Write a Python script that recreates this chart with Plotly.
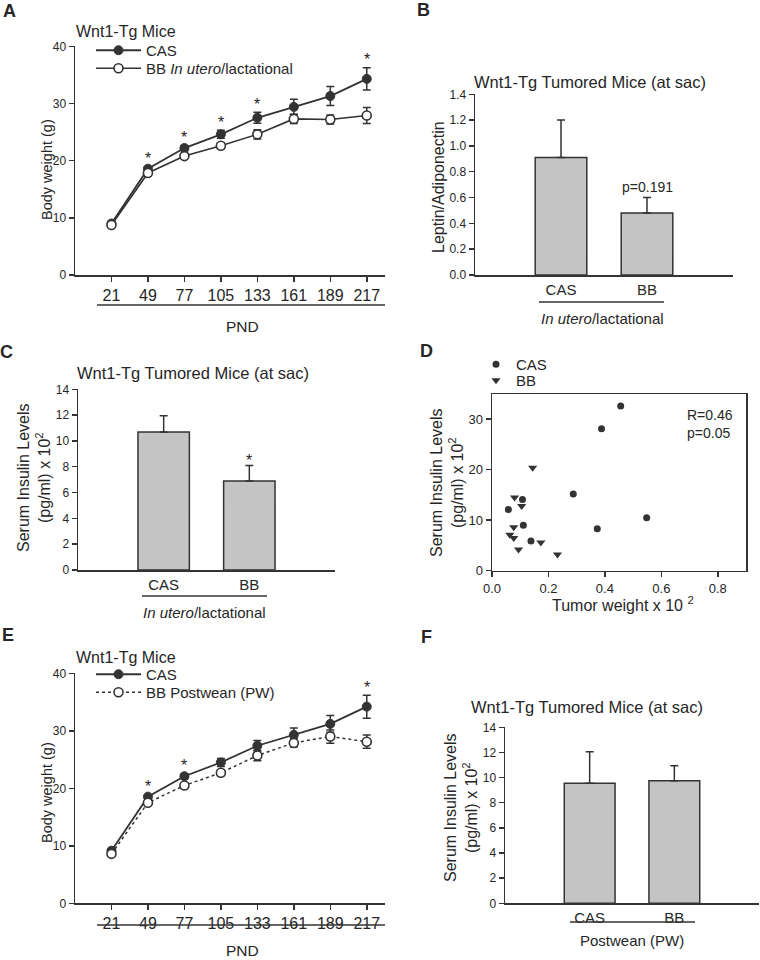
import plotly.graph_objects as go

W, H = 760, 960

# ---------------- data ----------------
pnd = ["21", "49", "77", "105", "133", "161", "189", "217"]

a_cas = [9.0, 18.6, 22.2, 24.6, 27.5, 29.4, 31.3, 34.3]
a_cas_err = [0.3, 0.3, 0.45, 0.7, 0.95, 1.35, 1.65, 1.95]
a_bb = [8.75, 17.85, 20.8, 22.6, 24.6, 27.3, 27.2, 27.9]
a_bb_err = [0.3, 0.3, 0.4, 0.5, 0.8, 0.8, 0.8, 1.4]
a_sig = [0, 1, 1, 1, 1, 0, 0, 1]

e_cas = [9.15, 18.55, 22.1, 24.5, 27.4, 29.3, 31.2, 34.2]
e_cas_err = [0.3, 0.3, 0.45, 0.7, 0.9, 1.2, 1.45, 2.0]
e_bb = [8.6, 17.5, 20.5, 22.7, 25.7, 27.9, 29.0, 28.1]
e_bb_err = [0.3, 0.3, 0.45, 0.5, 0.9, 0.7, 1.15, 1.15]
e_sig = [0, 1, 1, 0, 0, 0, 0, 1]

groups = ["CAS", "BB"]
b_vals = [0.91, 0.48]
b_err = [0.29, 0.12]
c_vals = [10.7, 6.9]
c_err = [1.25, 1.2]
c_sig = [0, 1]
f_vals = [9.55, 9.75]
f_err = [2.5, 1.2]

d_cas_x = [0.058, 0.108, 0.111, 0.138, 0.288, 0.373, 0.388, 0.456, 0.548]
d_cas_y = [12.1, 14.1, 9.0, 5.9, 15.2, 8.3, 28.1, 32.6, 10.5]
d_bb_x = [0.063, 0.077, 0.077, 0.080, 0.094, 0.105, 0.144, 0.173, 0.232]
d_bb_y = [7.1, 6.5, 8.6, 14.5, 4.2, 12.8, 20.4, 5.6, 3.2]

# ---------------- style ----------------
FONT = "Liberation Sans, Arial, sans-serif"
INK = "#333333"
TXT = "#262626"
BARFILL = "#c4c4c4"


def px(x):
    return x / W


def py(y):
    return 1 - y / H


idx = list(range(len(pnd)))
cats = list(range(len(groups)))

fig = go.Figure()


def err(arr, asym=False):
    d = dict(type="data", array=arr, color=INK, thickness=1.5, width=4, visible=True)
    if asym:
        d.update(symmetric=False, arrayminus=[0] * len(arr))
    return d


def line_panel(xa, ya, cas, cas_e, bb, bb_e, bb_name, bb_dash, leg1, leg2):
    fig.add_trace(go.Scatter(
        x=idx, y=cas, error_y=err(cas_e), mode="lines+markers", name="CAS",
        line=dict(color=INK, width=1.8),
        marker=dict(symbol="circle", size=9, color=INK, line=dict(color=INK, width=1)),
        xaxis=xa, yaxis=ya, legend=leg1))
    fig.add_trace(go.Scatter(
        x=idx, y=bb, error_y=err(bb_e), mode="lines+markers", name=bb_name,
        line=dict(color=INK, width=1.6 if bb_dash == "solid" else 1.5, dash=bb_dash),
        marker=dict(symbol="circle", size=9, color="white", line=dict(color=INK, width=1.6)),
        xaxis=xa, yaxis=ya, legend=leg2))


def bar_panel(xa, ya, vals, errs):
    fig.add_trace(go.Bar(
        x=cats, y=vals, width=0.6, error_y=err(errs, asym=True),
        marker=dict(color=BARFILL, line=dict(color=INK, width=1.5)),
        showlegend=False, xaxis=xa, yaxis=ya))


line_panel("x", "y", a_cas, a_cas_err, a_bb, a_bb_err,
           "BB <i>In utero</i>/lactational", "solid", "legend", "legend2")
bar_panel("x2", "y2", b_vals, b_err)
bar_panel("x3", "y3", c_vals, c_err)
fig.add_trace(go.Scatter(x=d_cas_x, y=d_cas_y, mode="markers", name="CAS",
                         marker=dict(symbol="circle", size=7, color=INK),
                         xaxis="x4", yaxis="y4", legend="legend3"))
fig.add_trace(go.Scatter(x=d_bb_x, y=d_bb_y, mode="markers", name="BB",
                         marker=dict(symbol="triangle-down", size=8, color=INK),
                         xaxis="x4", yaxis="y4", legend="legend4"))
line_panel("x5", "y5", e_cas, e_cas_err, e_bb, e_bb_err,
           "BB Postwean (PW)", "dot", "legend5", "legend6")
bar_panel("x6", "y6", f_vals, f_err)

# ---------------- axes ----------------
base = dict(showline=True, linecolor=INK, linewidth=1.5, showgrid=False, zeroline=False,
            ticks="outside", ticklen=5, tickwidth=1.5, tickcolor=INK, automargin=False,
            tickfont=dict(family=FONT, size=12, color=TXT), fixedrange=True)


def ax(**kw):
    d = dict(base)
    d.update(kw)
    return d


pnd_x = dict(range=[-1, 7.5], tickmode="array", tickvals=idx, ticktext=pnd,
             tickfont=dict(family=FONT, size=16, color=TXT))
cat_x = dict(range=[-1, 2], tickmode="array", tickvals=cats, ticktext=groups, ticks="",
             tickfont=dict(family=FONT, size=15, color=TXT))

fig.update_layout(
    template="none",
    xaxis=ax(domain=[px(75), px(385)], anchor="y", **pnd_x),
    yaxis=ax(domain=[py(275), py(46.3)], anchor="x", range=[0, 40], tickvals=[0, 10, 20, 30, 40]),
    xaxis2=ax(domain=[px(475), px(733)], anchor="y2", **cat_x),
    yaxis2=ax(domain=[py(275), py(94.3)], anchor="x2", range=[0, 1.4], dtick=0.2, tickformat=".1f"),
    xaxis3=ax(domain=[px(78), px(335)], anchor="y3", **cat_x),
    yaxis3=ax(domain=[py(570), py(389.3)], anchor="x3", range=[0, 14], dtick=2),
    xaxis4=ax(domain=[px(492), px(746)], anchor="y4", range=[0, 0.9], dtick=0.2, tickformat=".1f",
              mirror=True, tickfont=dict(family=FONT, size=13, color=TXT)),
    yaxis4=ax(domain=[py(570.7), py(394)], anchor="x4", range=[0, 35], tickvals=[0, 10, 20, 30],
              mirror=True, tickfont=dict(family=FONT, size=13, color=TXT)),
    xaxis5=ax(domain=[px(75), px(385)], anchor="y5", **pnd_x),
    yaxis5=ax(domain=[py(903.3), py(673.3)], anchor="x5", range=[0, 40], tickvals=[0, 10, 20, 30, 40]),
    xaxis6=ax(domain=[px(505), px(759)], anchor="y6", **cat_x),
    yaxis6=ax(domain=[py(903.3), py(727.3)], anchor="x6", range=[0, 14], dtick=2),
)


def leg(x0, yc, size=15, iw=45):
    return dict(x=px(x0), y=py(yc - 16), xanchor="left", yanchor="top",
                bgcolor="rgba(0,0,0,0)", borderwidth=0, itemwidth=iw,
                font=dict(family=FONT, size=size, color=TXT),
                itemclick=False, itemdoubleclick=False)


fig.update_layout(
    legend=leg(91, 50), legend2=leg(91, 68),
    legend3=leg(476, 364, 15, 30), legend4=leg(476, 380, 15, 30),
    legend5=leg(91, 674), legend6=leg(91, 692),
)

# ---------------- annotations ----------------
ann = []


def text(x, y, t, size=15, angle=0, xanchor="center", align="center"):
    ann.append(dict(x=px(x), y=py(y), xref="paper", yref="paper", text=t, showarrow=False,
                    textangle=angle, xanchor=xanchor, yanchor="middle", align=align,
                    font=dict(family=FONT, size=size, color=TXT)))


# panel letters
for lab, x, y in [("A", 9, 11), ("B", 423, 10), ("C", 6, 352), ("D", 426, 351),
                  ("E", 8, 635), ("F", 426, 637)]:
    text(x, y, "<b>%s</b>" % lab, size=18)

# legend headings
text(74, 32, "Wnt1-Tg Mice", size=16, xanchor="left")
text(74, 657, "Wnt1-Tg Mice", size=16, xanchor="left")

# panel titles
text(590, 82, "Wnt1-Tg Tumored Mice (at sac)", size=16.5)
text(193, 373, "Wnt1-Tg Tumored Mice (at sac)", size=16.5)
text(587, 707, "Wnt1-Tg Tumored Mice (at sac)", size=16.5)

# axis titles
text(47, 170, "Body weight (g)", size=14.5, angle=-90)
text(47, 793, "Body weight (g)", size=14.5, angle=-90)
text(438, 187, "Leptin/Adiponectin", size=16, angle=-90)
ins = "Serum Insulin Levels<br>(pg/ml) x 10<sup>2</sup>"
text(34, 478, ins, size=16, angle=-90)
text(447, 483, ins, size=16, angle=-90)
text(461, 808, ins, size=16, angle=-90)
text(623, 604, "Tumor weight x 10 <sup>2</sup>", size=16)
text(242, 327, "PND", size=15.5)
text(242, 950, "PND", size=15.5)
text(602, 318, "<i>In utero</i>/lactational", size=15)
text(204, 612, "<i>In utero</i>/lactational", size=15)
text(632, 940, "Postwean (PW)", size=15)
text(685, 424, "R=0.46<br>p=0.05", size=14, xanchor="left", align="left")


def stars(xa, ya, vals, errs, sig, shift):
    for i, (v, e, s) in enumerate(zip(vals, errs, sig)):
        if s:
            ann.append(dict(x=i, y=v + e, xref=xa, yref=ya, text="*", showarrow=False,
                            yanchor="middle", yshift=shift,
                            font=dict(family=FONT, size=16, color=TXT)))


stars("x", "y", a_cas, a_cas_err, a_sig, 8)
stars("x5", "y5", e_cas, e_cas_err, e_sig, 8)
stars("x3", "y3", c_vals, c_err, c_sig, 5)
ann.append(dict(x=1, y=b_vals[1] + b_err[1], xref="x2", yref="y2", text="p=0.191",
                showarrow=False, yanchor="bottom", yshift=1,
                font=dict(family=FONT, size=14, color=TXT)))

# underline brackets
shapes = []
for x0, x1, y in [(97, 385, 305), (539, 664, 302), (142, 267, 596), (97, 385, 925), (570, 695, 922)]:
    shapes.append(dict(type="line", xref="paper", yref="paper", x0=px(x0), x1=px(x1),
                       y0=py(y), y1=py(y), line=dict(color=INK, width=1.5)))

fig.update_layout(annotations=ann, shapes=shapes)

fig.update_layout(
    width=W, height=H, margin=dict(l=0, r=0, t=0, b=0, autoexpand=False),
    paper_bgcolor="white", plot_bgcolor="white",
    font=dict(family=FONT, color=TXT),
    bargap=0.4, hovermode=False,
)

fig.write_html("out.html", config=dict(displayModeBar=False, staticPlot=True),
               post_script="document.body.style.margin='0px';")
